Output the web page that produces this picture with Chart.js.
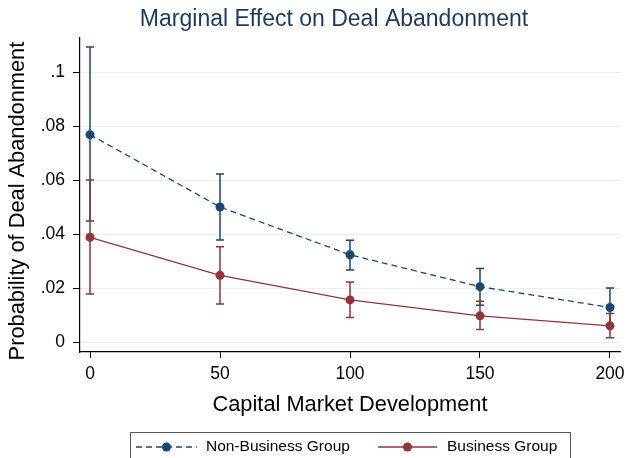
<!DOCTYPE html>
<html>
<head>
<meta charset="utf-8">
<script src="https://cdn.jsdelivr.net/npm/chart.js@4.4.0/dist/chart.umd.min.js"></script>
<style>
  html, body { margin: 0; padding: 0; background: #fff; }
  #wrap { width: 626px; height: 458px; }
</style>
</head>
<body>
<div id="wrap"><canvas id="mycanvas" width="626" height="458"></canvas></div>
<script>
// values
var xs = [0, 50, 100, 150, 200];
var nonBiz = [0.0768, 0.0500, 0.0323, 0.0205, 0.0128];
var nonBizLo = [0.0448, 0.0378, 0.0267, 0.0136, 0.0056];
var nonBizHi = [0.1093, 0.0622, 0.0377, 0.0272, 0.0200];
var biz = [0.0388, 0.0247, 0.0156, 0.0097, 0.0060];
var bizLo = [0.0178, 0.0141, 0.0091, 0.0046, 0.0016];
var bizHi = [0.0600, 0.0353, 0.0222, 0.0151, 0.0106];
var xTicks = [0, 50, 100, 150, 200];
var yTicks = [0, 0.02, 0.04, 0.06, 0.08, 0.1];
var chartTitle = 'Marginal Effect on Deal Abandonment';

var navy = '#1a476f';
var maroon = '#90353b';
var fontFam = '"Liberation Sans", Arial, Helvetica, sans-serif';

function pts(vals) {
    var out = [];
    for (var i in xs) out.push({x: xs[i], y: vals[i]});
    return out;
}

var errorBars = {
    id: 'errorBars',
    beforeDatasetsDraw: function(chart) {
        var ctx = chart.ctx;
        var xS = chart.scales.x, yS = chart.scales.y;
        chart.data.datasets.forEach(function(ds) {
            ctx.save();
            ctx.strokeStyle = ds.borderColor;
            ctx.lineWidth = 1.5;
            for (var i = 0; i < xs.length; i++) {
                var px = xS.getPixelForValue(xs[i]);
                var top = yS.getPixelForValue(ds.hi[i]);
                var bot = yS.getPixelForValue(ds.lo[i]);
                ctx.beginPath();
                ctx.moveTo(px, top); ctx.lineTo(px, bot);
                ctx.moveTo(px - 4, top); ctx.lineTo(px + 4, top);
                ctx.moveTo(px - 4, bot); ctx.lineTo(px + 4, bot);
                ctx.stroke();
            }
            ctx.restore();
        });
    }
};

// title and boxed legend, drawn where Stata puts them
var extras = {
    id: 'extras',
    afterDraw: function(chart) {
        var ctx = chart.ctx;
        ctx.save();
        ctx.fillStyle = '#1c3a5e';
        ctx.font = '23px ' + fontFam;
        ctx.textAlign = 'center';
        ctx.textBaseline = 'middle';
        ctx.fillText(chartTitle, 334, 20);

        ctx.textAlign = 'left';
        ctx.strokeStyle = '#555';
        ctx.lineWidth = 1;
        ctx.strokeRect(130.5, 432.5, 440, 40);
        var items = [
            {x1: 136, x2: 197, tx: 206},
            {x1: 378, x2: 437, tx: 447}
        ];
        chart.data.datasets.forEach(function(ds, i) {
            var it = items[i], y = 447;
            ctx.strokeStyle = ds.borderColor;
            ctx.lineWidth = 1.3;
            ctx.setLineDash(ds.borderDash || []);
            ctx.beginPath();
            ctx.moveTo(it.x1, y); ctx.lineTo(it.x2, y);
            ctx.stroke();
            ctx.setLineDash([]);
            ctx.fillStyle = ds.borderColor;
            ctx.beginPath();
            ctx.arc((it.x1 + it.x2) / 2, y, 4.5, 0, Math.PI * 2);
            ctx.fill();
            ctx.fillStyle = '#000';
            ctx.font = '15.5px ' + fontFam;
            ctx.fillText(ds.label, it.tx, y);
        });
        ctx.restore();
    }
};

var ctx = document.getElementById('mycanvas');
var chart = new Chart(ctx, {
    type: 'line',
    data: {
        datasets: [
            {
                label: 'Non-Business Group',
                data: pts(nonBiz),
                lo: nonBizLo, hi: nonBizHi,
                borderColor: navy,
                backgroundColor: navy,
                borderWidth: 1.3,
                borderDash: [6, 4],
                pointRadius: 4.5,
                pointBorderWidth: 0,
                fill: false,
                tension: 0
            },
            {
                label: 'Business Group',
                data: pts(biz),
                lo: bizLo, hi: bizHi,
                borderColor: maroon,
                backgroundColor: maroon,
                borderWidth: 1.3,
                pointRadius: 4.5,
                pointBorderWidth: 0,
                fill: false,
                tension: 0
            }
        ]
    },
    options: {
        responsive: false,
        animation: false,
        layout: { padding: { left: 0, right: 6, top: 38, bottom: 40 } },
        plugins: {
            legend: { display: false },
            tooltip: { enabled: false },
            title: { display: false }
        },
        scales: {
            x: {
                type: 'linear',
                min: -3.85,
                max: 203.85,
                afterBuildTicks: function(s) { s.ticks = xTicks.map(function(v) { return {value: v}; }); },
                afterFit: function(s) { s.height = 66; s.paddingRight = 0; s.paddingLeft = 0; },
                ticks: {
                    color: '#000',
                    font: { family: fontFam, size: 17.5 },
                    padding: 6,
                    maxRotation: 0
                },
                grid: { drawOnChartArea: false, drawTicks: true, tickLength: 6, tickColor: '#000' },
                border: { display: true, color: '#000', width: 1.2 },
                title: {
                    display: true,
                    text: 'Capital Market Development',
                    color: '#000',
                    font: { family: fontFam, size: 21.8 },
                    padding: { top: 0, bottom: 0 }
                }
            },
            y: {
                min: -0.0037,
                max: 0.1126,
                afterBuildTicks: function(s) { s.ticks = yTicks.map(function(v) { return {value: v}; }); },
                afterFit: function(s) { s.width = 80; s.paddingTop = 0; s.paddingBottom = 0; },
                ticks: {
                    color: '#000',
                    font: { family: fontFam, size: 17.5 },
                    padding: 8,
                    callback: function(v) { return v === 0 ? '0' : String(+v.toFixed(2)).replace(/^0/, ''); }
                },
                grid: { color: '#e6eff1', lineWidth: 1, tickLength: 7, tickColor: '#000' },
                border: { display: true, color: '#000', width: 1.2 },
                title: {
                    display: true,
                    // trailing spaces nudge the rotated text down to where Stata puts it
                    text: 'Probability of Deal Abandonment  ',
                    color: '#000',
                    font: { family: fontFam, size: 21.8 },
                    padding: { top: 5, bottom: 4 }
                }
            }
        }
    },
    plugins: [errorBars, extras]
});
</script>
</body>
</html>
